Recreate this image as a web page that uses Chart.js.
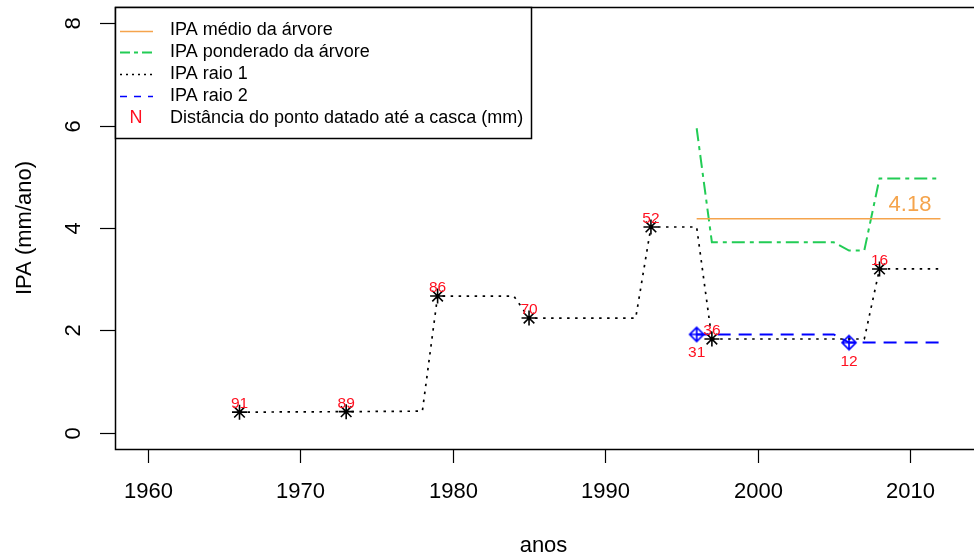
<!DOCTYPE html>
<html>
<head>
<meta charset="utf-8">
<script src="https://cdn.jsdelivr.net/npm/chart.js@4"></script>
<style>
body { margin: 0; background: #fff; overflow: hidden; }
#wrap { width: 974px; height: 556px; position: relative; }
</style>
</head>
<body>
<div id="wrap"><canvas id="ipaChart"></canvas></div>
<script>
const FONT = '"Liberation Sans", Arial, Helvetica, sans-serif';

// IPA raio 1 (linha em degraus)
const raio1Years = [1966, 1973, 1978, 1979, 1984, 1985, 1992, 1993, 1996, 1997, 2007, 2008, 2012];
const raio1Values = [0.40, 0.41, 0.42, 2.67, 2.67, 2.24, 2.24, 4.02, 4.02, 1.83, 1.83, 3.20, 3.20];
// pontos datados raio 1
const raio1DatedYears = [1966, 1973, 1979, 1985, 1993, 1997, 2008];
const raio1DatedValues = [0.40, 0.41, 2.67, 2.24, 4.02, 1.83, 3.20];
const raio1DatedLabels = ['91', '89', '86', '70', '52', '36', '16'];
// IPA raio 2
const raio2Years = [1996, 2005, 2006, 2012];
const raio2Values = [1.92, 1.92, 1.76, 1.76];
const raio2DatedYears = [1996, 2006];
const raio2DatedValues = [1.92, 1.76];
const raio2DatedLabels = ['31', '12'];
// IPA ponderado da arvore
const pondYears = [1996, 1997, 2005, 2006, 2007, 2008, 2012];
const pondValues = [5.95, 3.72, 3.72, 3.56, 3.56, 4.97, 4.97];
// IPA medio da arvore
const medioYears = [1996, 2012];
const medioValues = [4.18, 4.18];
const medioText = '4.18';

const xTicks = [1960, 1970, 1980, 1990, 2000, 2010];
const yTicks = [0, 2, 4, 6, 8];

const ORANGE = '#F5A44C';
const GREEN = '#22CC55';
const BLUE = '#0000FF';
const RED = '#FF1020';

function pts(xs, ys) {
    return xs.map((x, i) => ({ x: x, y: ys[i] }));
}

// losango com cruz (pch 9 do R)
function diamondPlus() {
    var c = document.createElement('canvas');
    c.width = 18; c.height = 18;
    var g = c.getContext('2d');
    g.strokeStyle = BLUE;
    g.lineWidth = 1.7;
    g.beginPath();
    g.moveTo(9, 2); g.lineTo(16, 9); g.lineTo(9, 16); g.lineTo(2, 9); g.closePath();
    g.moveTo(2, 9); g.lineTo(16, 9);
    g.moveTo(9, 2); g.lineTo(9, 16);
    g.stroke();
    return c;
}

const rAxes = {
    id: 'rAxes',
    afterDraw(chart) {
        const ctx = chart.ctx, a = chart.chartArea;
        const xs = chart.scales.x, ys = chart.scales.y;
        ctx.save();
        ctx.strokeStyle = '#000';
        ctx.lineWidth = 1.5;
        ctx.beginPath();
        ctx.moveTo(a.right + 5, a.top + 0.5);
        ctx.lineTo(a.left + 0.5, a.top + 0.5);
        ctx.lineTo(a.left + 0.5, a.bottom + 0.5);
        ctx.lineTo(a.right + 5, a.bottom + 0.5);
        ctx.stroke();

        ctx.fillStyle = '#000';
        ctx.font = '22px ' + FONT;
        ctx.lineWidth = 1.2;
        ctx.textAlign = 'center';
        ctx.textBaseline = 'alphabetic';
        xTicks.forEach(t => {
            var px = Math.round(xs.getPixelForValue(t)) + 0.5;
            ctx.beginPath();
            ctx.moveTo(px, a.bottom);
            ctx.lineTo(px, a.bottom + 14);
            ctx.stroke();
            ctx.fillText(String(t), px, a.bottom + 49);
        });
        yTicks.forEach(t => {
            var py = Math.round(ys.getPixelForValue(t)) + 0.5;
            ctx.beginPath();
            ctx.moveTo(a.left - 15, py);
            ctx.lineTo(a.left, py);
            ctx.stroke();
            ctx.save();
            ctx.translate(a.left - 35, py);
            ctx.rotate(-Math.PI / 2);
            ctx.fillText(String(t), 0, 0);
            ctx.restore();
        });
        ctx.fillText('anos', (a.left + 972) / 2, 552);
        ctx.save();
        ctx.translate(31, (a.top + a.bottom) / 2);
        ctx.rotate(-Math.PI / 2);
        ctx.fillText('IPA (mm/ano)', 0, 0);
        ctx.restore();
        ctx.restore();
    }
};

const rLabels = {
    id: 'rLabels',
    afterDatasetsDraw(chart) {
        const ctx = chart.ctx;
        ctx.save();
        ctx.textAlign = 'center';
        ctx.textBaseline = 'alphabetic';
        ctx.font = '15.5px ' + FONT;
        ctx.fillStyle = RED;
        chart.getDatasetMeta(1).data.forEach((p, i) => {
            ctx.fillText(raio1DatedLabels[i], p.x, p.y - 4);
        });
        chart.getDatasetMeta(3).data.forEach((p, i) => {
            ctx.fillText(raio2DatedLabels[i], p.x, p.y + 23);
        });
        var last = chart.getDatasetMeta(4).data[1];
        ctx.font = '22px ' + FONT;
        ctx.fillStyle = ORANGE;
        ctx.fillText(medioText, chart.scales.x.getPixelForValue(medioYears[1] - 2), last.y - 8);
        ctx.restore();
    }
};

const rLegend = {
    id: 'rLegend',
    afterDraw(chart) {
        const ctx = chart.ctx, a = chart.chartArea;
        const items = [
            { text: 'IPA médio da árvore', color: ORANGE, dash: [], w: 1.5 },
            { text: 'IPA ponderado da árvore', color: GREEN, dash: [10, 4, 4, 4], w: 1.8 },
            { text: 'IPA raio 1', color: '#000', dash: [2, 4], w: 1.5 },
            { text: 'IPA raio 2', color: BLUE, dash: [7, 7], w: 1.5 },
            { text: 'Distância do ponto datado até a casca (mm)', n: true }
        ];
        var left = a.left, top = a.top, right = 531, bottom = 138;
        ctx.save();
        ctx.fillStyle = '#fff';
        ctx.fillRect(left + 1, top + 1, right - left - 1, bottom - top - 1);
        ctx.strokeStyle = '#000';
        ctx.lineWidth = 1.5;
        ctx.strokeRect(left + 0.5, top + 0.5, right - left, bottom - top);
        ctx.font = '18px ' + FONT;
        ctx.textBaseline = 'middle';
        items.forEach((it, i) => {
            var y = 30.5 + i * 21.8;
            if (it.n) {
                ctx.fillStyle = RED;
                ctx.textAlign = 'center';
                ctx.fillText('N', 136, y);
            } else {
                ctx.strokeStyle = it.color;
                ctx.lineWidth = it.w;
                ctx.setLineDash(it.dash);
                ctx.beginPath();
                ctx.moveTo(120, Math.round(y) + 0.5);
                ctx.lineTo(153, Math.round(y) + 0.5);
                ctx.stroke();
                ctx.setLineDash([]);
            }
            ctx.fillStyle = '#000';
            ctx.textAlign = 'left';
            ctx.fillText(it.text, 170, y);
        });
        ctx.restore();
    }
};

new Chart(document.getElementById('ipaChart'), {
    type: 'line',
    data: {
        datasets: [
            {
                label: 'IPA raio 1',
                data: pts(raio1Years, raio1Values),
                borderColor: '#000', borderWidth: 1.7, borderDash: [2.5, 5.5],
                pointRadius: 0, tension: 0
            },
            {
                label: 'datados raio 1',
                data: pts(raio1DatedYears, raio1DatedValues),
                showLine: false, pointStyle: 'star', pointRadius: 7.5,
                pointBorderColor: '#000', pointBorderWidth: 1.6
            },
            {
                label: 'IPA raio 2',
                data: pts(raio2Years, raio2Values),
                borderColor: BLUE, borderWidth: 2, borderDash: [13, 8],
                pointRadius: 0, tension: 0
            },
            {
                label: 'datados raio 2',
                data: pts(raio2DatedYears, raio2DatedValues),
                showLine: false, pointStyle: diamondPlus(), pointRadius: 7
            },
            {
                label: 'IPA médio da árvore',
                data: pts(medioYears, medioValues),
                borderColor: ORANGE, borderWidth: 1.5,
                pointRadius: 0
            },
            {
                label: 'IPA ponderado da árvore',
                data: pts(pondYears, pondValues),
                borderColor: GREEN, borderWidth: 2, borderDash: [13, 5, 4, 5],
                pointRadius: 0, tension: 0
            }
        ]
    },
    options: {
        responsive: true,
        maintainAspectRatio: false,
        animation: false,
        layout: { autoPadding: false, padding: { left: 115, top: 7, right: 0, bottom: 107 } },
        plugins: { legend: { display: false }, tooltip: { enabled: false } },
        scales: {
            x: { type: 'linear', min: 1957.83, max: 2014.2, display: false },
            y: { type: 'linear', min: -0.32, max: 8.32, display: false }
        }
    },
    plugins: [rLabels, rAxes, rLegend]
});
</script>
</body>
</html>
